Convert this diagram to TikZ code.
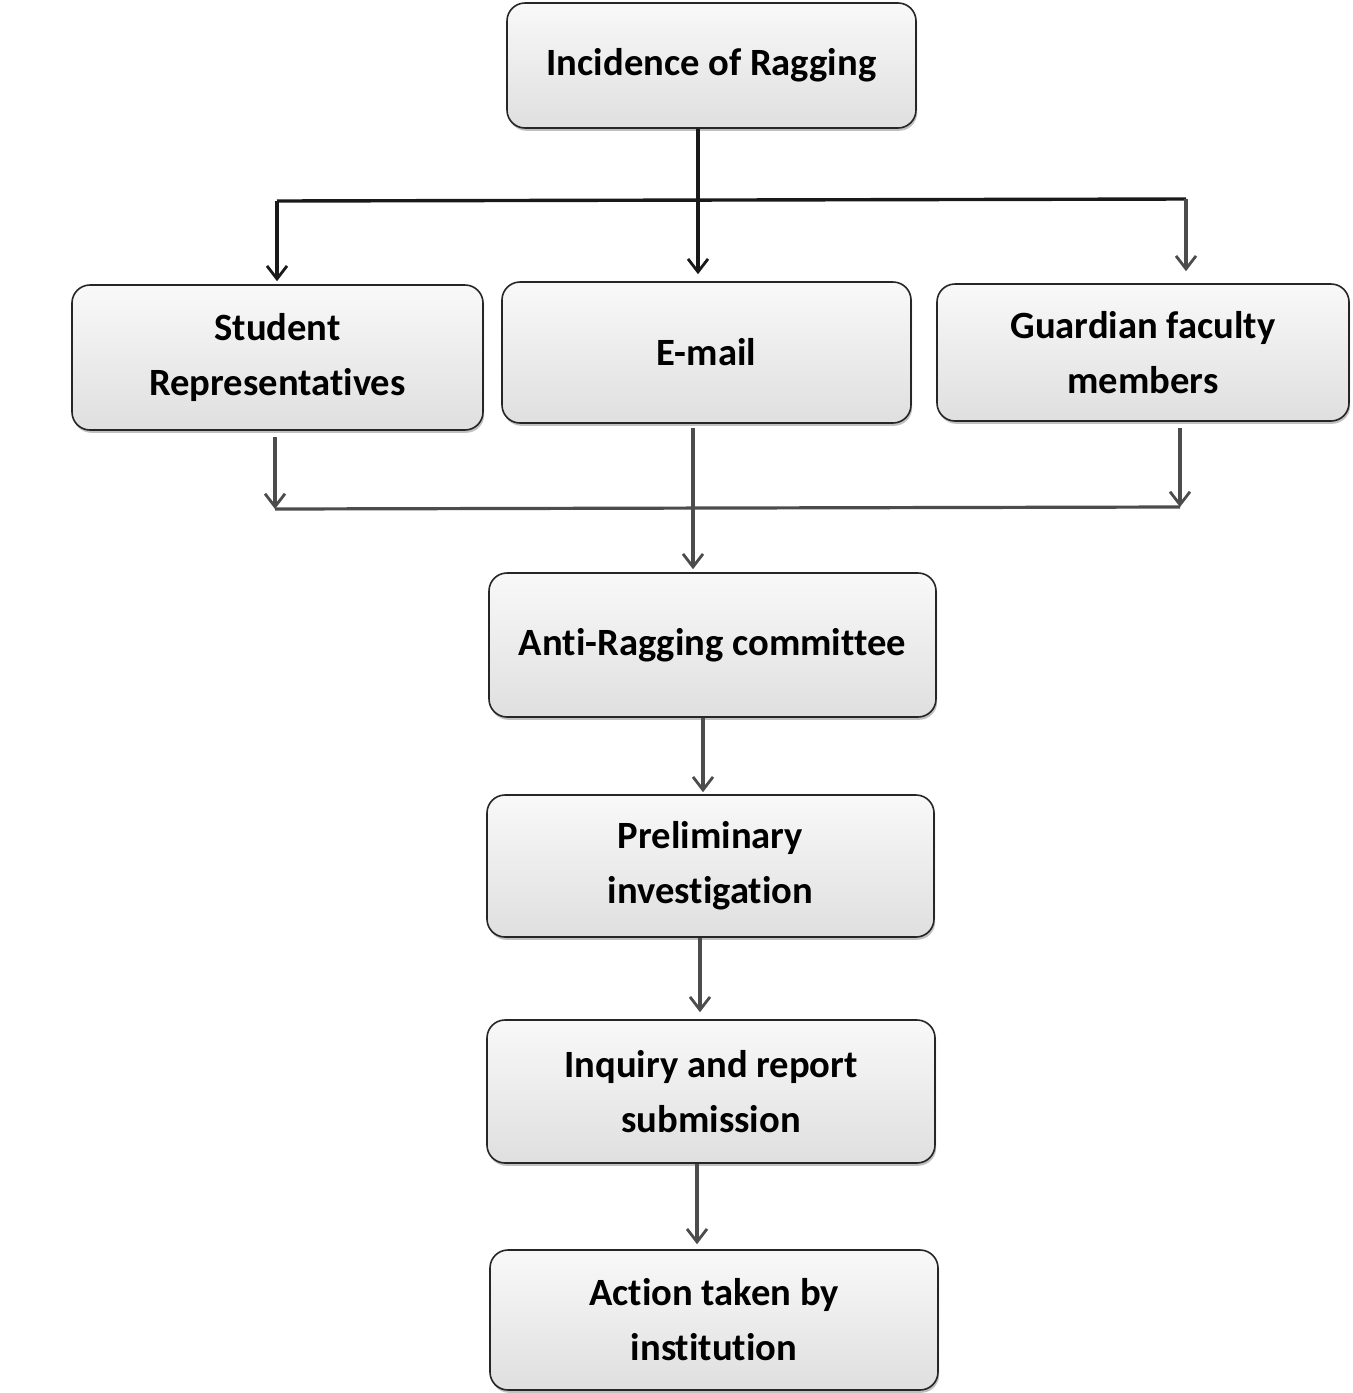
\documentclass[tikz,border=0pt]{standalone}
\usepackage{fontspec}
\setmainfont{Carlito}[Ligatures=NoCommon]
\usetikzlibrary{arrows.meta,shadows,calc}
\begin{document}
\begin{tikzpicture}[x=0.5pt,y=-0.5pt,
  flowbox/.style={draw=black!85, line width=0.8pt, rounded corners=9pt,
    top color=gray!5, bottom color=gray!25, align=center,
    font=\fontsize{19.3pt}{27.5pt}\selectfont\bfseries, inner sep=0pt,
    drop shadow={shadow xshift=0.6pt, shadow yshift=-1.4pt, fill=gray!70, opacity=0.7}},
  link/.style={line width=1.6pt, draw=black!70},
  toplink/.style={line width=1.7pt, draw=black!90},
  arr/.style={-{Straight Barb[length=6.5pt,width=10pt,line width=1.4pt]}}
]
\useasboundingbox[fill=white] (0,0) rectangle (1353,1393);

\node[flowbox, minimum width=204.5pt, minimum height=62.5pt] (top) at (711.5,65.5) {Incidence of Ragging};

\node[flowbox, minimum width=205.5pt, minimum height=72.5pt] (sr) at (277.5,357.5) {Student\\Representatives};
\node[flowbox, minimum width=204.5pt, minimum height=70.5pt] (em) at (706.5,352.5) {E-mail};
\node[flowbox, minimum width=206pt, minimum height=68.5pt] (gf) at (1143,352.5) {Guardian faculty\\members};

\node[flowbox, minimum width=223.5pt, minimum height=72pt] (arc) at (712.5,645) {Anti-Ragging committee};
\node[flowbox, minimum width=223.5pt, minimum height=71pt] (pre) at (710.5,866) {Preliminary\\investigation};
\node[flowbox, minimum width=224pt, minimum height=71.5pt] (inq) at (711,1091.5) {Inquiry and report\\submission};
\node[flowbox, minimum width=224pt, minimum height=70pt] (act) at (714,1320) {Action taken by\\institution};

% top distribution
\coordinate (j1) at (698,200);
\coordinate (hl) at (277,201);
\coordinate (hr) at (1186,199);
\draw[toplink] (top.south -| j1) -- (j1);
\draw[toplink] (hl) -- (hr);
\draw[toplink,arr,shorten >=1.5pt] (hl) -- (sr.north -| hl);
\draw[toplink,arr,shorten >=3.5pt] (j1) -- (em.north -| j1);
\draw[link,arr,shorten >=6pt] (hr) -- (gf.north -| hr);

% collection
\coordinate (bl) at (275,509);
\coordinate (br) at (1180,507);
\coordinate (jm) at (693,508);
\draw[link,arr] ([yshift=-3pt]sr.south -| bl) -- (bl);
\draw[link,arr] ([yshift=-3pt]gf.south -| br) -- (br);
\draw[link] (bl) -- (br);
\draw[link,arr,shorten >=1.5pt] ([yshift=-2pt]em.south -| jm) -- (arc.north -| jm);

% chain
\draw[link,arr,shorten >=1pt] ([xshift=-4.75pt]arc.south) -- ([xshift=-4.75pt]arc.south |- pre.north);
\draw[link,arr,shorten >=3.5pt] ([xshift=-5.25pt]pre.south) -- ([xshift=-5.25pt]pre.south |- inq.north);
\draw[link,arr,shorten >=2.5pt] ([xshift=-7pt]inq.south) -- ([xshift=-7pt]inq.south |- act.north);
\end{tikzpicture}
\end{document}
